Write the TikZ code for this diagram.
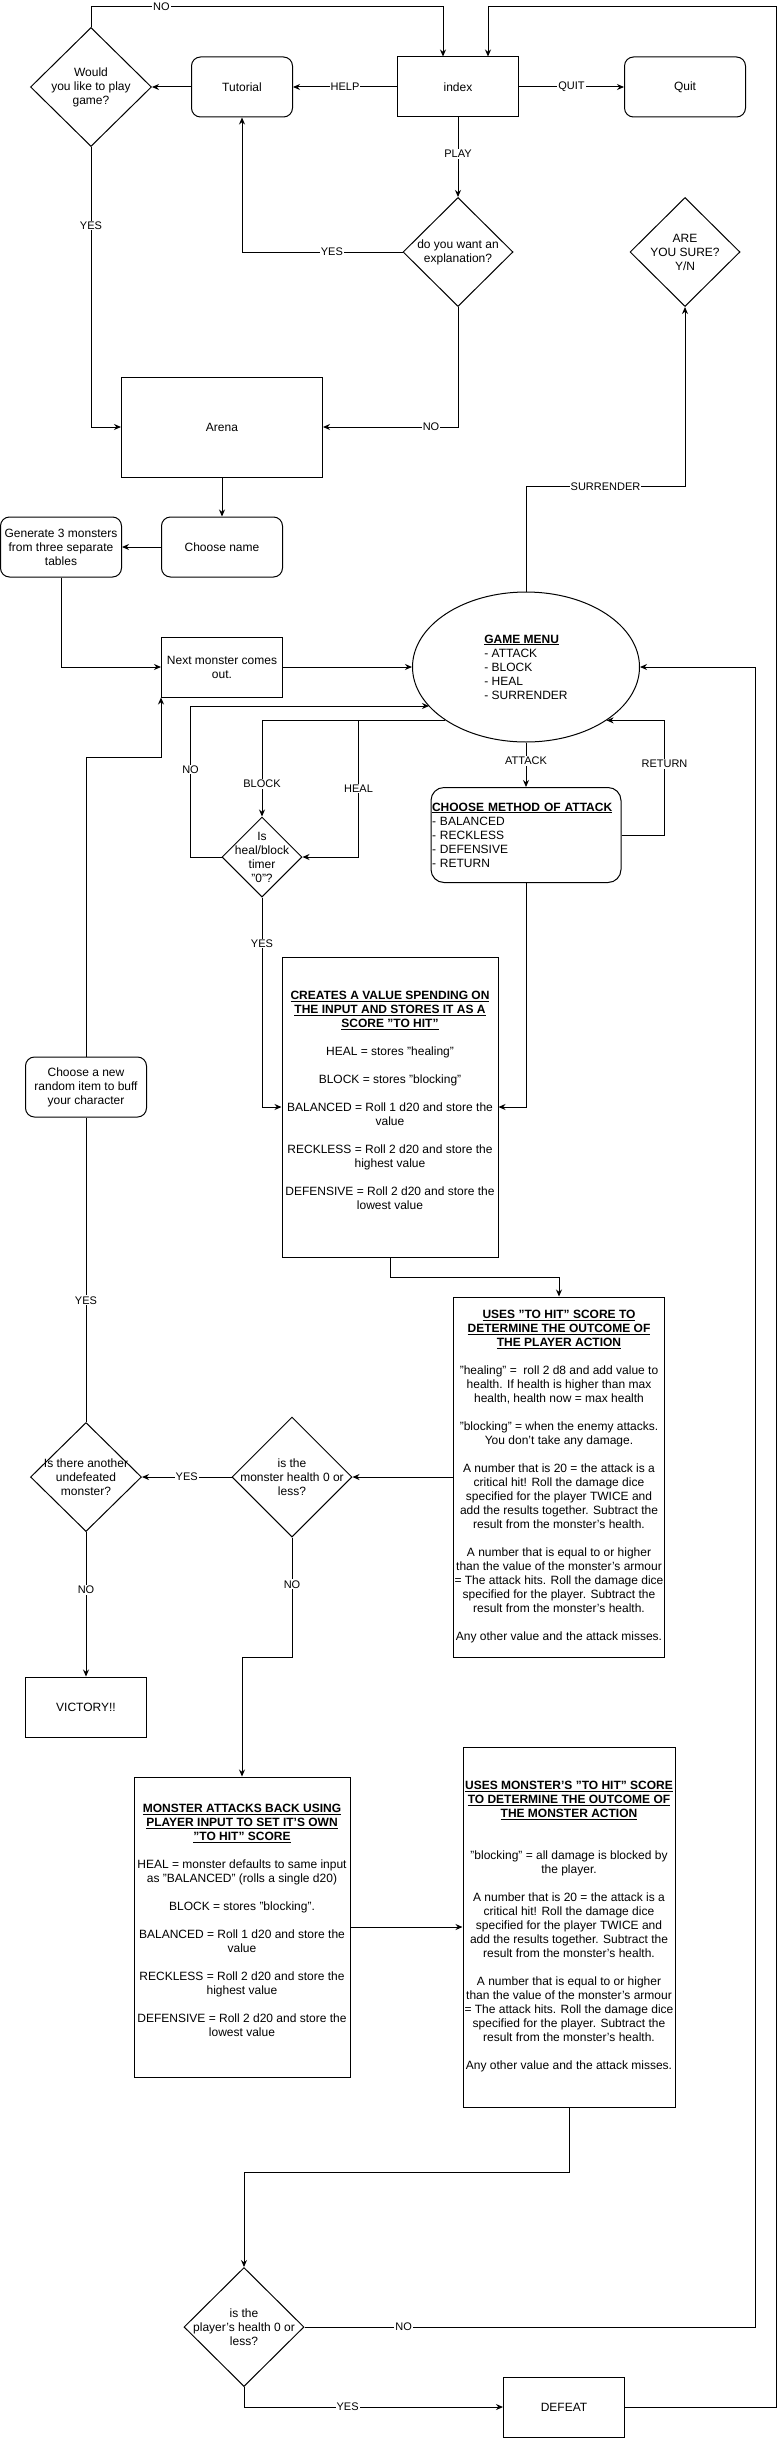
\documentclass[tikz,border=0pt]{standalone}
\usepackage{fontspec}
\setmainfont{Liberation Sans}
\usepackage{tikz}
\usetikzlibrary{arrows.meta,shapes.geometric}
\newcommand{\hdl}[1]{\underline{\textbf{#1}}}

\begin{document}
\begin{tikzpicture}[x=1pt,y=-1pt,line width=1pt,>={Stealth[length=7pt,width=6pt]},
  every node/.style={font=\fontsize{12}{14}\selectfont,inner sep=0pt},
  box/.style={draw,align=center},
  rbox/.style={draw,align=center,rounded corners=9pt},
  dia/.style 2 args={draw,diamond,minimum width=#1,minimum height=#2},
  dtxt/.style={align=center},
  lbl/.style={fill=white,inner sep=1pt,font=\fontsize{11}{13}\selectfont}]
 \path[fill=white] (0,0) rectangle (779,2438);

 \draw (458,87) node[box,minimum width=121,minimum height=60] (index) {index};
 \draw (685,87) node[rbox,minimum width=121,minimum height=60] (quit) {Quit};
 \draw (242,87) node[rbox,minimum width=101,minimum height=60] (tutorial) {Tutorial};
 \draw (91,87) node[dia={121}{119},label={[dtxt]center:{Would\\you like to play\\game?}}] (would) {};
 \draw (458,252) node[dia={110}{109},label={[dtxt]center:{do you want an\\explanation?}}] (expl) {};
 \draw (685,252) node[dia={110}{109},label={[dtxt]center:{ARE\\YOU SURE?\\Y/N}}] (sure) {};
 \draw (222,427) node[box,minimum width=201,minimum height=100] (arena) {Arena};
 \draw (222,547) node[rbox,minimum width=121,minimum height=60] (choose) {Choose name};
 \draw (61,547) node[rbox,minimum width=121,minimum height=60] (generate) {Generate 3 monsters\\from three separate\\tables};
 \draw (222,667) node[box,minimum width=121,minimum height=60] (next) {Next monster comes\\out.};
 \draw (526,667) node[draw,ellipse,minimum width=227,minimum height=150,align=left] (menu) {\hdl{GAME MENU}\\- ATTACK\\- BLOCK\\- HEAL\\- SURRENDER};
 \draw (526,835) node[draw,rounded corners=13pt,minimum height=95,text width=188,inner xsep=1pt,align=left] (method) {\hdl{CHOOSE METHOD OF ATTACK}\\- BALANCED\\- RECKLESS\\- DEFENSIVE\\- RETURN};
 \draw (262,857) node[dia={80}{80},label={[dtxt]center:{Is\\heal/block\\timer\\"0"?}}] (heal) {};
 \draw (390,1107) node[box,minimum width=216,minimum height=300] (creates) {\hdl{CREATES A VALUE SPENDING ON}\\\hdl{THE INPUT AND STORES IT AS A}\\\hdl{SCORE "TO HIT"}\\[14pt]HEAL = stores "healing"\\[14pt]BLOCK = stores "blocking"\\[14pt]BALANCED = Roll 1 d20 and store the\\value\\[14pt]RECKLESS = Roll 2 d20 and store the\\highest value\\[14pt]DEFENSIVE = Roll 2 d20 and store the\\lowest value\\ \mbox{}};
 \draw (86,1087) node[rbox,minimum width=121,minimum height=60] (newitem) {Choose a new\\random item to buff\\your character};
 \draw (559,1477) node[box,minimum width=211,minimum height=360] (uses) {\hdl{USES "TO HIT" SCORE TO}\\\hdl{DETERMINE THE OUTCOME OF}\\\hdl{THE PLAYER ACTION}\\[14pt]"healing" =~ roll 2 d8 and add value to\\health. If health is higher than max\\health, health now = max health\\[14pt]"blocking" = when the enemy attacks.\\You don't take any damage.\\[14pt]A number that is 20 = the attack is a\\critical hit! Roll the damage dice\\specified for the player TWICE and\\add the results together. Subtract the\\result from the monster's health.\\[14pt]A number that is equal to or higher\\than the value of the monster's armour\\= The attack hits. Roll the damage dice\\specified for the player. Subtract the\\result from the monster's health.\\[14pt]Any other value and the attack misses.};
 \draw (86,1477) node[dia={111}{109},label={[dtxt]center:{Is there another\\undefeated\\monster?}}] (another) {};
 \draw (292,1477) node[dia={120}{120},label={[dtxt]center:{is the\\monster health 0 or\\less?}}] (mhealth) {};
 \draw (86,1707) node[box,minimum width=121,minimum height=60] (victory) {VICTORY!!};
 \draw (242,1927) node[box,minimum width=216,minimum height=300] (monster) {\hdl{MONSTER ATTACKS BACK USING}\\\hdl{PLAYER INPUT TO SET IT'S OWN}\\\hdl{"TO HIT" SCORE}\\[14pt]HEAL = monster defaults to same input\\as "BALANCED" (rolls a single d20)\\[14pt]BLOCK = stores "blocking".\\[14pt]BALANCED = Roll 1 d20 and store the\\value\\[14pt]RECKLESS = Roll 2 d20 and store the\\highest value\\[14pt]DEFENSIVE = Roll 2 d20 and store the\\lowest value\\ \mbox{}};
 \draw (569,1927) node[box,minimum width=212,minimum height=360] (umonster) {\hdl{USES MONSTER'S "TO HIT" SCORE}\\\hdl{TO DETERMINE THE OUTCOME OF}\\\hdl{THE MONSTER ACTION}\\[28pt]"blocking" = all damage is blocked by\\the player.\\[14pt]A number that is 20 = the attack is a\\critical hit! Roll the damage dice\\specified for the player TWICE and\\add the results together. Subtract the\\result from the monster's health.\\[14pt]A number that is equal to or higher\\than the value of the monster's armour\\= The attack hits. Roll the damage dice\\specified for the player. Subtract the\\result from the monster's health.\\[14pt]Any other value and the attack misses.};
 \draw (244,2327) node[dia={120}{119},label={[dtxt]center:{is the\\player's health 0 or\\less?}}] (player) {};
 \draw (564,2407) node[box,minimum width=121,minimum height=60] (defeat) {DEFEAT};

 \path[->] (index) edge node[lbl]{HELP} (tutorial);
 \path[->] (index) edge node[lbl]{QUIT} (quit);
 \path[->] (tutorial) edge (would);
 \draw[->] (would.north) |- node[lbl,pos=0.6]{NO} (443,7) -- ([xshift=-15pt]index.north);
 \path[->] (index) edge node[lbl,pos=0.46]{PLAY} (expl);
 \draw[->] (expl.west) -| node[lbl,pos=0.22]{YES} (tutorial.south);
 \draw[->] (expl.south) |- node[lbl,pos=0.6]{NO} (arena.east);
 \draw[->] (would.south) |- node[lbl,pos=0.14]{YES} (arena.west);
 \path[->] (arena) edge (choose);
 \path[->] (choose) edge (generate);
 \draw[->] (generate.south) |- (next.west);
 \path[->] (next) edge (menu);
 \draw[->] (menu.north) -- ++(0,-105) -| node[lbl,pos=0.25]{SURRENDER} (sure.south);
 \path[->] (menu) edge node[lbl,pos=0.42]{ATTACK} (method);
 \draw[->] (method.east) -- ++(43,0) |- node[lbl,pos=0.31]{RETURN} (menu.south east);
 \draw[->] (menu.south west) -| node[lbl,pos=0.83]{BLOCK} (heal.north);
 \draw[->] (menu.south west) -| node[lbl,pos=0.75]{HEAL} ([xshift=56pt]heal.east) -- (heal.east);
 \draw[->] (heal.west) -- ++(-31,0) |- node[lbl,pos=0.29]{NO} ([xshift=-97pt,yshift=-39pt]menu.center);
 \draw[->] (heal.south) |- node[lbl,pos=0.11]{YES} (creates.west);
 \draw[->] (method.south) |- (creates.east);
 \draw[->] (creates.south) -- ++(0,20) -| (uses.north);
 \path[->] (uses) edge (mhealth);
 \path[->] (mhealth) edge node[lbl]{YES} (another);
 \path[->] (another) edge node[lbl,pos=0.4]{NO} (victory);
 \draw (another.north) -- node[lbl,pos=0.4]{YES} (newitem.south);
 \draw[->] (newitem.north) |- ([yshift=-60pt]next.south west) -- (next.south west);
 \draw[->] (mhealth.south) -- node[lbl,pos=0.39]{NO} ++(0,120) -| (monster.north);
 \path[->] (monster) edge (umonster);
 \draw[->] (umonster.south) -- ++(0,65) -| (player.north);
 \draw[->] (player.east) -- node[lbl,pos=0.22]{NO} ++(451,0) |- (menu.east);
 \draw[->] (player.south) |- node[lbl,pos=0.7]{YES} (defeat.west);
 \draw[->] (defeat.east) -- ++(151,0) |- (488,7) -- ([xshift=30pt]index.north);
\end{tikzpicture}
\end{document}
